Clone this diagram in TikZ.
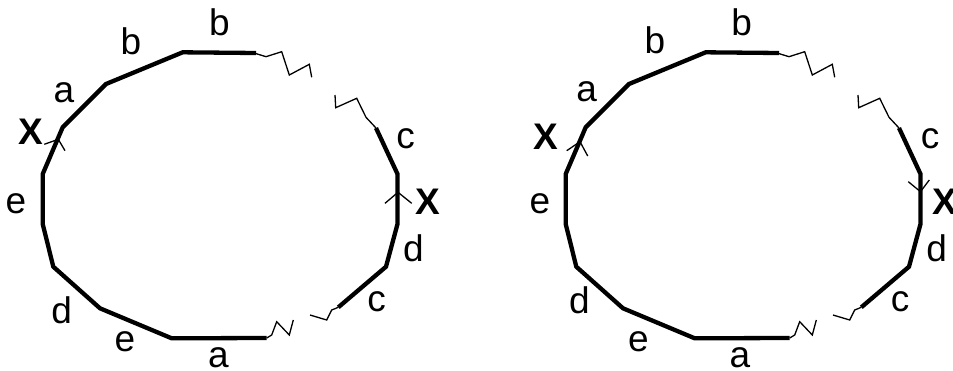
\documentclass[tikz,border=0pt]{standalone}
\usepackage{fontspec}
\setmainfont{Liberation Sans}
\begin{document}
\begin{tikzpicture}[x=1pt,y=-1pt,
  thickline/.style={line width=4.3pt},
  thinline/.style={line width=1.3pt},
  lbl/.style={font=\fontsize{37}{40}\selectfont, anchor=base, inner sep=0pt},
  xlbl/.style={lbl, font=\fontsize{37}{40}\selectfont\bfseries}]
\useasboundingbox (0,0) rectangle (953,370);
% polygon shape, drawn twice
\foreach \dx in {0,523}{
\begin{scope}[shift={(\dx,0)}]
  \draw[thickline] (256,53) -- (182.7,52.3) -- (106,84) -- (62.7,127.3) -- (42.7,174) -- (42.7,224)
     -- (53.3,266.7) -- (100,308.3) -- (171.7,338.3) -- (266.7,338);
  \draw[thinline] (255,53.3) -- (266,56.7) -- (281.7,51.7) -- (289.3,75) -- (309.3,64.3) -- (311.7,77.3);
  \draw[thinline] (335,95) -- (335.7,107.7) -- (356.7,98.3) -- (366,117.3) -- (376,128);
  \draw[thickline] (376,128) -- (397.5,174) -- (397.5,224) -- (386,266.7) -- (338.3,307.3);
  \draw[thinline] (310,315) -- (326.7,320) -- (331.7,310) -- (338.3,307.3);
  \draw[thinline] (266.7,338) -- (271.7,335) -- (276.7,321.7) -- (289.3,335) -- (293.3,320);
\end{scope}}
% arrow marks
\draw[thinline] (44.3,144.3) -- (58.3,139.3) -- (65,150.7);
\draw[thinline] (385,203.3) -- (398,192.3) -- (411.7,203.3);
\draw[thinline] (566.7,150.7) -- (580,141.7) -- (587.7,156);
\draw[thinline] (908.3,181.7) -- (920.5,191.7) -- (929.3,180);
% labels left
\node[lbl] (lb1) at (219.3,35) {b};
\node[lbl] (lb2) at (131,54) {b};
\node[lbl] (la1) at (64,102.3) {a};
\node[xlbl] (lx1) at (31,144) {X};
\node[lbl] (le1) at (16,213.3) {e};
\node[lbl] (ld1) at (61.7,323.3) {d};
\node[lbl] (le2) at (125,351.7) {e};
\node[lbl] (la2) at (218.3,367.3) {a};
\node[lbl] (lc1) at (376.7,311.7) {c};
\node[lbl] (ld2) at (413.3,261.7) {d};
\node[xlbl] (lx2) at (427.5,214) {X};
\node[lbl] (lc2) at (405.7,148.3) {c};
% labels right
\node[lbl] (rb1) at (741.7,35) {b};
\node[lbl] (rb2) at (655,53.3) {b};
\node[lbl] (ra1) at (586.7,101.7) {a};
\node[xlbl] (rx1) at (546,149) {X};
\node[lbl] (re1) at (540,213.3) {e};
\node[lbl] (rd1) at (579.3,313.3) {d};
\node[lbl] (re2) at (638.3,351.7) {e};
\node[lbl] (ra2) at (740,367.3) {a};
\node[lbl] (rc1) at (900,311.7) {c};
\node[lbl] (rd2) at (936.7,261.7) {d};
\node[lbl] (rc2) at (930,148.3) {c};
\node[xlbl] (rx2) at (945,214) {X};
\end{tikzpicture}
\end{document}
